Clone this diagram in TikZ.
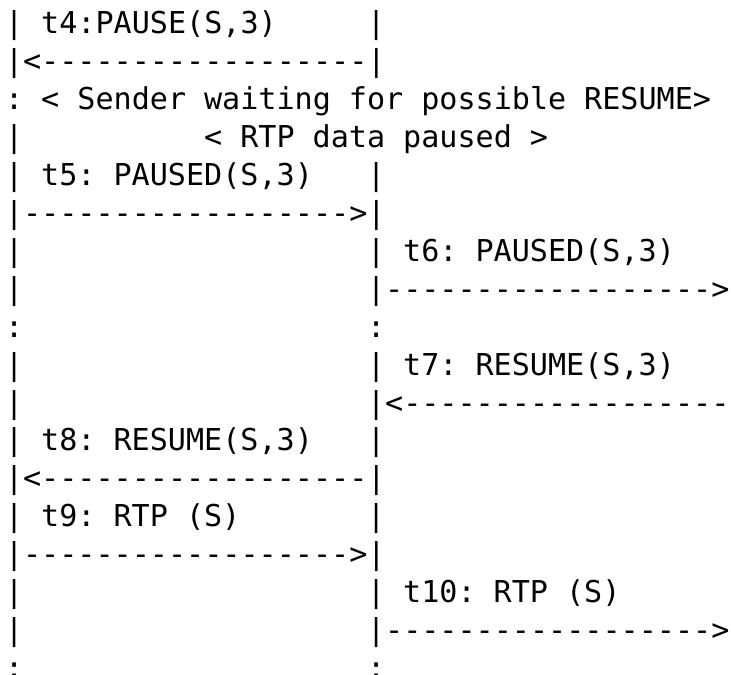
\documentclass[tikz,border=0pt]{standalone}
\usepackage{fontspec}
\setmonofont{DejaVu Sans Mono}
\tikzset{txt/.style={inner sep=0pt, outer sep=0pt, anchor=base west,
  font=\ttfamily\fontsize{15.05pt}{18.95pt}\selectfont, text=black}}
\newcommand\asciiseg[4]{\node[txt] (#1) at ({2.5pt+#2*9.05pt},{-17pt-#3*18.95pt}) {#4};}
\begin{document}
\begin{tikzpicture}
\useasboundingbox (0,0) rectangle (365.5pt,-337pt);
% row 0
\asciiseg{r0a}{0}{0}{|}
\asciiseg{r0b}{2}{0}{t4:PAUSE(S,3)}
\asciiseg{r0c}{20}{0}{|}
% row 1
\asciiseg{r1a}{0}{1}{|<------------------|}
% row 2
\asciiseg{r2a}{0}{2}{:}
\asciiseg{r2b}{2}{2}{<}
\asciiseg{r2c}{4}{2}{Sender}
\asciiseg{r2d}{11}{2}{waiting}
\asciiseg{r2e}{19}{2}{for}
\asciiseg{r2f}{23}{2}{possible}
\asciiseg{r2g}{32}{2}{RESUME>}
% row 3
\asciiseg{r3a}{0}{3}{|}
\asciiseg{r3b}{11}{3}{<}
\asciiseg{r3c}{13}{3}{RTP}
\asciiseg{r3d}{17}{3}{data}
\asciiseg{r3e}{22}{3}{paused}
\asciiseg{r3f}{29}{3}{>}
% row 4
\asciiseg{r4a}{0}{4}{|}
\asciiseg{r4b}{2}{4}{t5:}
\asciiseg{r4c}{6}{4}{PAUSED(S,3)}
\asciiseg{r4d}{20}{4}{|}
% row 5
\asciiseg{r5a}{0}{5}{|------------------>|}
% row 6
\asciiseg{r6a}{0}{6}{|}
\asciiseg{r6b}{20}{6}{|}
\asciiseg{r6c}{22}{6}{t6:}
\asciiseg{r6d}{26}{6}{PAUSED(S,3)}
% row 7
\asciiseg{r7a}{0}{7}{|}
\asciiseg{r7b}{20}{7}{|------------------>}
% row 8
\asciiseg{r8a}{0}{8}{:}
\asciiseg{r8b}{20}{8}{:}
% row 9
\asciiseg{r9a}{0}{9}{|}
\asciiseg{r9b}{20}{9}{|}
\asciiseg{r9c}{22}{9}{t7:}
\asciiseg{r9d}{26}{9}{RESUME(S,3)}
% row 10
\asciiseg{r10a}{0}{10}{|}
\asciiseg{r10b}{20}{10}{|<------------------}
% row 11
\asciiseg{r11a}{0}{11}{|}
\asciiseg{r11b}{2}{11}{t8:}
\asciiseg{r11c}{6}{11}{RESUME(S,3)}
\asciiseg{r11d}{20}{11}{|}
% row 12
\asciiseg{r12a}{0}{12}{|<------------------|}
% row 13
\asciiseg{r13a}{0}{13}{|}
\asciiseg{r13b}{2}{13}{t9:}
\asciiseg{r13c}{6}{13}{RTP}
\asciiseg{r13d}{10}{13}{(S)}
\asciiseg{r13e}{20}{13}{|}
% row 14
\asciiseg{r14a}{0}{14}{|------------------>|}
% row 15
\asciiseg{r15a}{0}{15}{|}
\asciiseg{r15b}{20}{15}{|}
\asciiseg{r15c}{22}{15}{t10:}
\asciiseg{r15d}{27}{15}{RTP}
\asciiseg{r15e}{31}{15}{(S)}
% row 16
\asciiseg{r16a}{0}{16}{|}
\asciiseg{r16b}{20}{16}{|------------------>}
% row 17
\asciiseg{r17a}{0}{17}{:}
\asciiseg{r17b}{20}{17}{:}
\end{tikzpicture}
\end{document}
